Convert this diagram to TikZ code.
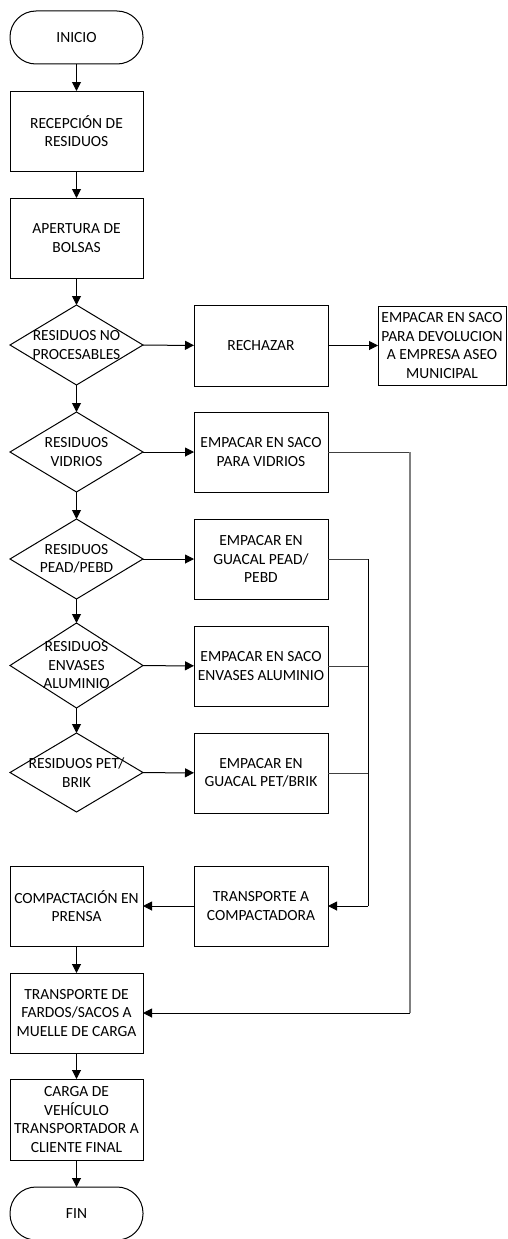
\documentclass[tikz,border=0pt]{standalone}
\usepackage{fontspec}
\setmainfont{Carlito}
\usetikzlibrary{arrows.meta,shapes.geometric}
\begin{document}
\begin{tikzpicture}[x=1pt,y=-1pt,
  every node/.style={font=\fontsize{15.5}{18.5}\selectfont, align=center, inner sep=0pt, outer sep=0pt},
  procbox/.style={draw, line width=1pt, minimum width=133pt, minimum height=80pt},
  termbox/.style={draw, line width=1pt, rounded corners=26pt, minimum width=133pt, minimum height=53pt},
  decision/.style={draw, diamond, line width=1pt, minimum width=133pt, minimum height=80pt},
  flow/.style={line width=1pt, -{Triangle[length=9pt,width=9pt]}},
  link/.style={line width=1pt, draw=black!75},
  farlink/.style={line width=1.2pt, draw=black!50}]
\useasboundingbox (0,0) rectangle (507,1239);

% main column
\node[termbox] (inicio) at (76.5,37.5) {INICIO};
\node[procbox] (recep) at (76.5,131) {RECEPCIÓN DE\\RESIDUOS};
\node[procbox] (apert) at (76.5,238) {APERTURA DE\\BOLSAS};
\node[decision, label={[align=center]center:RESIDUOS NO\\PROCESABLES}] (d1) at (76.5,345) {};
\node[decision, label={[align=center]center:RESIDUOS\\VIDRIOS}] (d2) at (76.5,452) {};
\node[decision, label={[align=center]center:RESIDUOS\\PEAD/PEBD}] (d3) at (76.5,559) {};
\node[decision, minimum height=85pt, label={[align=center]center:RESIDUOS\\ENVASES\\ALUMINIO}] (d4) at (76.5,665.5) {};
\node[decision, minimum height=79pt, label={[align=center]center:RESIDUOS PET/\\BRIK}] (d5) at (76.5,772.5) {};
\node[procbox] (compact) at (76.5,906) {COMPACTACIÓN EN\\PRENSA};
\node[procbox] (fardos) at (76.5,1013) {TRANSPORTE DE\\FARDOS/SACOS A\\MUELLE DE CARGA};
\node[procbox, minimum height=81pt] (carga) at (76.5,1119.5) {CARGA DE\\VEHÍCULO\\TRANSPORTADOR A\\CLIENTE FINAL};
\node[termbox] (fin) at (76.5,1213.5) {FIN};

% second column
\node[procbox, minimum width=134pt, minimum height=81pt] (rech) at (261,345.5) {RECHAZAR};
\node[procbox, minimum width=134pt] (vidr) at (261,452) {EMPACAR EN SACO\\PARA VIDRIOS};
\node[procbox, minimum width=134pt] (pead) at (261,559) {EMPACAR EN\\GUACAL PEAD/\\PEBD};
\node[procbox, minimum width=134pt] (alum) at (261,666) {EMPACAR EN SACO\\ENVASES ALUMINIO};
\node[procbox, minimum width=134pt] (pet) at (261,773) {EMPACAR EN\\GUACAL PET/BRIK};
\node[procbox, minimum width=134pt] (trcomp) at (261,906) {TRANSPORTE A\\COMPACTADORA};

% third column
\node[procbox, minimum width=128pt, minimum height=79pt] (devol) at (442,345.5) {EMPACAR EN SACO\\PARA DEVOLUCION\\A EMPRESA ASEO\\MUNICIPAL};

% junction points
\coordinate (j1) at (368,559);
\coordinate (j2) at (368,666);
\coordinate (j3) at (368,773);
\coordinate (j4) at (368,906);
\coordinate (g1) at (410,452);
\coordinate (g2) at (410,1013);

% main flow
\draw[flow] (inicio) -- (recep);
\draw[flow] (recep) -- (apert);
\draw[flow] (apert) -- (d1);
\draw[flow] (d1) -- (d2);
\draw[flow] (d2) -- (d3);
\draw[flow] (d3) -- (d4);
\draw[flow] (d4) -- (d5);
\draw[flow] (compact) -- (fardos);
\draw[flow] (fardos) -- (carga);
\draw[flow] (carga) -- (fin);

% branches
\draw[flow] (d1) -- (rech);
\draw[flow] (rech) -- (devol);
\draw[flow] (d2) -- (vidr);
\draw[flow] (d3) -- (pead);
\draw[flow] (d4) -- (alum);
\draw[flow] (d5) -- (pet);

% collection to compactor
\draw[link] (pead.east) -- (j1);
\draw[link] (alum.east) -- (j2);
\draw[link] (pet.east) -- (j3);
\draw[line width=1pt] (j1) -- (j4);
\draw[flow] (j4) -- (trcomp.east);
\draw[flow] (trcomp) -- (compact);

% glass goes straight to the loading dock
\draw[link] (vidr.east) -- (g1);
\draw[farlink] (g1) -- (g2);
\draw[flow] (g2) -- (fardos.east);
\end{tikzpicture}
\end{document}
